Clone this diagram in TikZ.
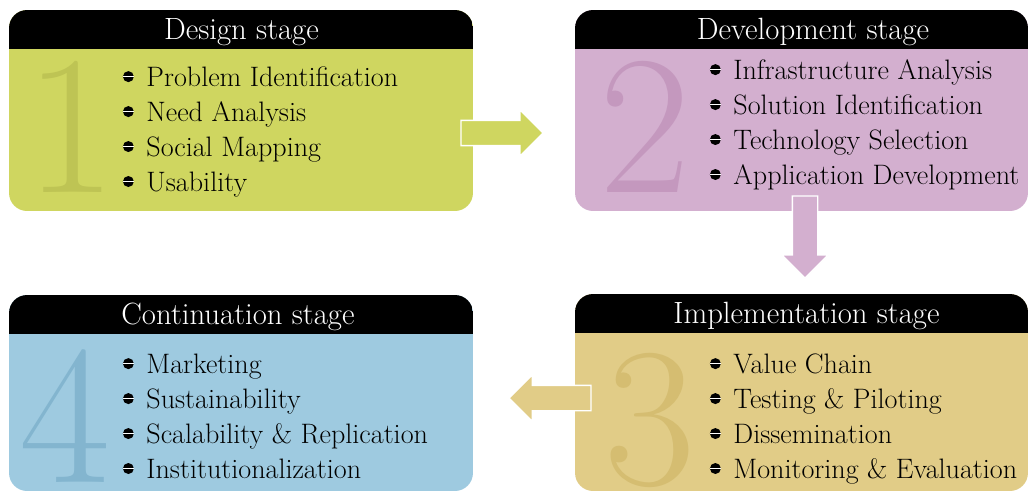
\documentclass[tikz,border=0pt]{standalone}
\usepackage{xcolor}
\usepackage{tikz}
\usetikzlibrary{shapes.arrows}

\definecolor{designgreen}{RGB}{207,214,96}
\definecolor{numgreen}{RGB}{190,196,84}
\definecolor{develpurple}{RGB}{211,175,207}
\definecolor{numpurple}{RGB}{196,152,190}
\definecolor{impltan}{RGB}{225,204,135}
\definecolor{numtan}{RGB}{213,189,113}
\definecolor{contblue}{RGB}{158,202,224}
\definecolor{numblue}{RGB}{131,181,207}

\newcommand{\itembullet}{\tikz[baseline=-0.19cm]{\fill[black] (0cm,0cm) circle (0.11cm); \draw[white, line width=0.6pt] (-0.11cm,0cm) -- (0.11cm,0cm);}\hspace{0.24cm}}

\tikzset{
  stagebox/.style={rectangle, rounded corners=0.36cm, inner sep=0pt,
    path picture={\fill[black, sharp corners] (path picture bounding box.north west) rectangle ([yshift=-0.77cm]path picture bounding box.north east);}},
  stagetitle/.style={anchor=base, inner sep=0pt, text=white, font=\fontsize{17.5}{19}\selectfont},
  stagenum/.style={anchor=base, inner sep=0pt, font=\fontsize{113}{113}\selectfont},
  stageitems/.style={anchor=base west, align=left, inner sep=0pt, font=\fontsize{16}{19.9}\selectfont},
  stagearrow/.style={single arrow, draw=white, line width=0.8pt, inner sep=0pt, inner ysep=0.24cm,
    single arrow head extend=0.21cm, minimum height=1.64cm, anchor=tail}
}

\begin{document}
\begin{tikzpicture}[x=0.02cm, y=-0.02cm]
  \useasboundingbox (0,0) rectangle (1029,491);

  % stage boxes
  \node[stagebox, fill=designgreen, minimum width=9.28cm, minimum height=4.02cm] (design) at (241,110.5) {};
  \node[stagebox, fill=develpurple, minimum width=9.06cm, minimum height=4.02cm] (devel) at (801.5,110.5) {};
  \node[stagebox, fill=impltan, minimum width=9.06cm, minimum height=3.94cm] (impl) at (801.5,392.5) {};
  \node[stagebox, fill=contblue, minimum width=9.28cm, minimum height=3.92cm] (cont) at (241,393) {};

  % titles
  \node[stagetitle] (designtitle) at (241.5,39) {Design stage};
  \node[stagetitle] (develtitle) at (813,39) {Development stage};
  \node[stagetitle] (impltitle) at (806.5,323) {Implementation stage};
  \node[stagetitle] (conttitle) at (238,324) {Continuation stage};

  % big numbers
  \node[stagenum, text=numgreen] (designnum) at (71,192) {1};
  \node[stagenum, text=numpurple] (develnum) at (645,192) {2};
  \node[stagenum, text=numtan] (implnum) at (650,484) {3};
  \node[stagenum, text=numblue] (contnum) at (65,482) {4};

  % items (anchored at the last line)
  \node[stageitems] (designlist) at (122,191) {\itembullet Problem Identification\\ \itembullet Need Analysis\\ \itembullet Social Mapping\\ \itembullet Usability};
  \node[stageitems] (devellist) at (709,184) {\itembullet Infrastructure Analysis\\ \itembullet Solution Identification\\ \itembullet Technology Selection\\ \itembullet Application Development};
  \node[stageitems] (impllist) at (709,478) {\itembullet Value Chain\\ \itembullet Testing \& Piloting\\ \itembullet Dissemination\\ \itembullet Monitoring \& Evaluation};
  \node[stageitems] (contlist) at (122,478) {\itembullet Marketing\\ \itembullet Sustainability\\ \itembullet Scalability \& Replication\\ \itembullet Institutionalization};

  % arrows between stages
  \node[stagearrow, fill=designgreen] (designarrow) at ([xshift=-0.26cm, yshift=-0.45cm]design.east) {};
  \node[stagearrow, fill=develpurple, rotate=-90] (develarrow) at ([xshift=0.07cm, yshift=0.32cm]devel.south) {};
  \node[stagearrow, fill=impltan, rotate=180] (implarrow) at ([xshift=0.34cm, yshift=-0.11cm]impl.west) {};
\end{tikzpicture}
\end{document}
